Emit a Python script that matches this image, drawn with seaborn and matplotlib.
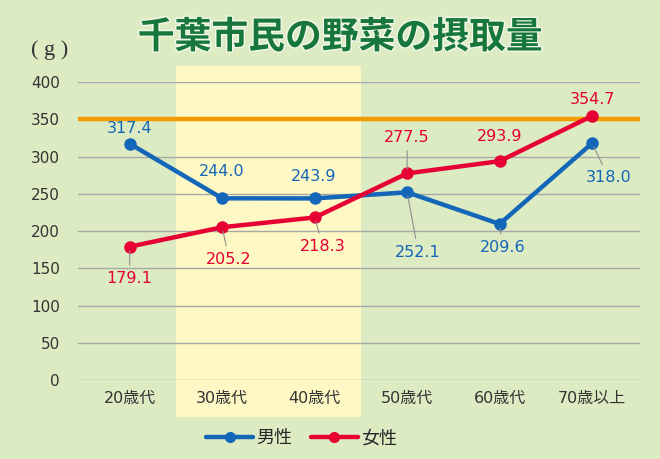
import numpy as np
import pandas as pd
import seaborn as sns
import matplotlib.pyplot as plt
import matplotlib.patheffects as pe
from matplotlib.lines import Line2D
from matplotlib.patches import Rectangle

ages = ["20歳代", "30歳代", "40歳代", "50歳代", "60歳代", "70歳以上"]
male = [317.4, 244.0, 243.9, 252.1, 209.6, 318.0]
female = [179.1, 205.2, 218.3, 277.5, 293.9, 354.7]
target = 350
y_ticks = [0, 50, 100, 150, 200, 250, 300, 350, 400]

# label offsets (points) from each marker, and whether a leader line is drawn
male_offsets = [(0, 11), (0, 19), (-1, 16), (8, -43), (2, -17), (12, -25)]
male_leader = [False, False, False, True, True, True]
female_offsets = [(0, -23), (5, -23), (6, -21), (0, 26), (0, 18), (0, 12)]
female_leader = [True, True, True, True, False, False]

blue = "#1466b8"
red = "#e60033"
orange = "#f09c00"
bg = "#dcebc2"

sns.set_theme(style="white")
plt.rcParams["font.family"] = ["DejaVu Sans", "Noto Sans CJK JP"]

df = pd.DataFrame({
    "age": ages * 2,
    "value": male + female,
    "sex": ["男性"] * len(ages) + ["女性"] * len(ages),
})

fig = plt.figure(figsize=(6.6, 4.59), dpi=100, facecolor=bg)
ax = fig.add_axes([0.118, 0.172, 0.852, 0.649])
ax.set_facecolor("none")

# highlighted band behind 30-40 age groups
ax.add_patch(Rectangle((0.5, -50), 2.0, 472, facecolor="#fdf8c4",
                       edgecolor="none", clip_on=False, zorder=0))

for t in y_ticks:
    ax.axhline(t, color="#a8a8a8", lw=1.0, zorder=1)
ax.axhline(target, color=orange, lw=3.2, zorder=2)

sns.lineplot(data=df, x="age", y="value", hue="sex", sort=False,
             palette={"男性": blue, "女性": red}, marker="o", markersize=9,
             markeredgewidth=0, linewidth=3.2, legend=False, ax=ax, zorder=3)

def put_labels(vals, offsets, leaders, color):
    for i, (v, off, lead) in enumerate(zip(vals, offsets, leaders)):
        arrow = dict(arrowstyle="-", color="#909090", lw=0.8,
                     shrinkA=2, shrinkB=3) if lead else None
        ax.annotate(f"{v:.1f}", xy=(i, v), xytext=off, textcoords="offset points",
                    ha="center", va="center", color=color, fontsize=11.5,
                    arrowprops=arrow, zorder=4)

put_labels(male, male_offsets, male_leader, blue)
put_labels(female, female_offsets, female_leader, red)

ax.set_xlim(-0.56, 5.52)
ax.set_ylim(0, 400)
ax.set_yticks(y_ticks)
ax.set_xlabel("")
ax.set_ylabel("")
ax.tick_params(axis="y", length=0, pad=13, labelsize=11, labelcolor="#333333")
ax.tick_params(axis="x", length=0, pad=8, labelsize=11.5, labelcolor="#333333")
for s in ax.spines.values():
    s.set_visible(False)

fig.text(0.515, 0.918, "千葉市民の野菜の摂取量", ha="center", va="center",
         fontsize=26.5, fontweight="bold", color="#17773a",
         family=["Noto Sans CJK JP"],
         path_effects=[pe.withStroke(linewidth=2, foreground="#f4f8ec")])
fig.text(0.075, 0.89, "( g )", ha="center", va="center", fontsize=16,
         color="#333333", family=["Liberation Serif"])

handles = [Line2D([], [], color=blue, lw=3.2, marker="o", markersize=7),
           Line2D([], [], color=red, lw=3.2, marker="o", markersize=7)]
fig.legend(handles, ["男性", "女性"], loc="center", bbox_to_anchor=(0.457, 0.045),
           ncol=2, frameon=False, handlelength=2.6,
           handletextpad=0.2, columnspacing=1.0,
           prop={"family": ["Noto Sans CJK JP"], "size": 13})

fig.savefig("out.png", dpi=100, facecolor=bg)
